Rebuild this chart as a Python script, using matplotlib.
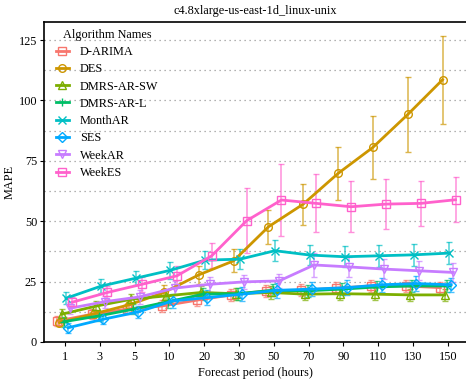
import numpy as np
import matplotlib
matplotlib.use("Agg")
import matplotlib.pyplot as plt

plt.rcParams['font.family'] = ['Liberation Serif', 'DejaVu Serif']

periods = ['1', '3', '5', '10', '20', '30', '50', '70', '90', '110', '130', '150']

names = ['D-ARIMA', 'DES', 'DMRS-AR-SW', 'DMRS-AR-L', 'MonthAR', 'SES', 'WeekAR', 'WeekES']
colors = ['#F8766D', '#CD9600', '#7CAE00', '#00BE67', '#00BFC4', '#00A9FF', '#C77CFF', '#FF61CC']
markers = ['s', 'o', '^', '+', 'x', 'D', 'v', 's']

# mean MAPE per period
d_arima = [8.7, 11.5, 13.6, 14.9, 17.3, 19.5, 21.2, 21.4, 22.3, 23.2, 23.2, 22.5]
des = [8.0, 11.7, 15.4, 20.5, 27.8, 33.6, 47.7, 57.1, 69.8, 80.6, 94.2, 108.6]
dmrs_sw = [11.5, 14.9, 17.7, 19.1, 20.5, 20.0, 20.5, 19.8, 20.0, 19.8, 19.5, 19.5]
dmrs_l = [8.4, 10.8, 13.6, 16.7, 19.8, 20.0, 21.4, 21.2, 21.9, 22.8, 23.2, 23.2]
month_ar = [18.1, 23.1, 26.4, 29.7, 33.9, 34.3, 37.8, 36.0, 35.3, 35.7, 36.1, 36.8]
ses = [5.9, 9.4, 12.4, 17.0, 18.4, 19.8, 21.4, 21.9, 22.5, 23.7, 24.2, 23.7]
week_ar = [14.0, 16.7, 18.7, 22.3, 23.9, 24.9, 25.3, 31.9, 31.1, 30.2, 29.5, 28.8]
week_es = [16.5, 20.5, 23.9, 27.4, 35.7, 50.2, 58.8, 57.4, 56.0, 57.1, 57.4, 58.9]

# half width of error bars
d_arima_err = [2.0, 2.0, 2.0, 2.5, 2.5, 2.5, 2.5, 2.5, 2.5, 2.5, 2.5, 2.5]
des_err = [1.5, 1.5, 2.0, 3.0, 3.8, 4.7, 7.0, 8.5, 11.0, 13.0, 15.7, 18.3]
dmrs_sw_err = [2.0, 2.0, 2.0, 2.5, 2.5, 2.5, 2.5, 2.5, 2.5, 2.5, 2.5, 2.5]
dmrs_l_err = [2.0, 2.0, 2.0, 2.5, 2.5, 2.5, 2.5, 2.5, 2.5, 2.5, 2.5, 2.5]
month_ar_err = [2.5, 3.0, 3.0, 3.5, 3.7, 4.0, 4.3, 4.3, 4.3, 4.5, 4.5, 4.5]
ses_err = [2.0, 2.0, 2.5, 3.0, 3.0, 3.0, 3.0, 3.0, 3.0, 3.0, 3.0, 3.0]
week_ar_err = [2.5, 2.5, 3.0, 3.0, 3.0, 3.0, 3.0, 4.8, 4.0, 4.0, 4.0, 4.0]
week_es_err = [2.0, 2.5, 3.0, 4.0, 5.2, 13.5, 15.0, 12.0, 10.5, 10.4, 9.4, 9.4]

means = [d_arima, des, dmrs_sw, dmrs_l, month_ar, ses, week_ar, week_es]
errs = [d_arima_err, des_err, dmrs_sw_err, dmrs_l_err, month_ar_err, ses_err, week_ar_err, week_es_err]

fig = plt.figure(figsize=(4.66, 3.86), dpi=100)
ax = fig.add_axes([0.0944, 0.114, 0.908, 0.829])

x = np.arange(len(periods))
for i in range(len(names)):
    xs = x + (i - 3.5) * 0.062
    ax.errorbar(xs, means[i], yerr=errs[i], fmt='none', ecolor=colors[i],
                elinewidth=1.1, capsize=2, alpha=0.7, zorder=2)
    ax.plot(xs, means[i], color=colors[i], lw=2, marker=markers[i],
            markersize=5.5, markerfacecolor='none', markeredgewidth=1.0,
            label=names[i], zorder=3)

for g in np.arange(12.5, 130, 12.5):
    ax.axhline(g, color='#999999', lw=0.9, ls=(0, (1, 3)), zorder=1)

ax.set_xlim(-0.6, 11.55)
ax.set_ylim(0, 132.5)
ax.set_xticks(x)
ax.set_xticklabels(periods)
ax.set_yticks([0, 25, 50, 75, 100, 125])
ax.tick_params(labelsize=8.8, length=3, pad=2, direction='out')
ax.tick_params(axis='x', pad=3.5)
for s in ax.spines.values():
    s.set_linewidth(1.2)

ax.set_xlabel('Forecast period (hours)', fontsize=8.8, labelpad=3)
ax.set_ylabel('MAPE', fontsize=8.8, labelpad=2)
ax.set_title('c4.8xlarge-us-east-1d_linux-unix', fontsize=8.8, pad=6)

leg = ax.legend(title='Algorithm Names', loc='upper left', frameon=False,
                fontsize=8.8, title_fontsize=8.8, handlelength=1.1,
                labelspacing=0.43, borderaxespad=0.2, handletextpad=0.9,
                borderpad=0.3, bbox_to_anchor=(0.013, 0.998))

fig.savefig('out.png', dpi=100)
